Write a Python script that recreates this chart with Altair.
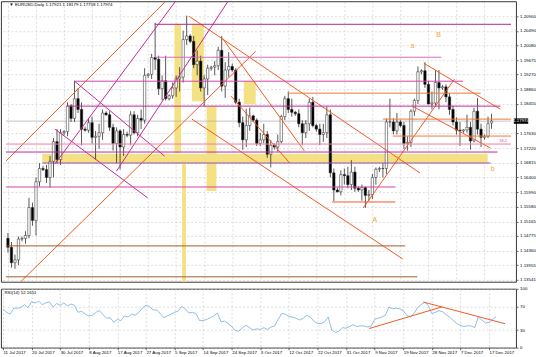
import altair as alt
import pandas as pd

# ---------------- data ----------------
DATE_LABELS = ["11 Jul 2017", "20 Jul 2017", "30 Jul 2017", "8 Aug 2017", "17 Aug 2017",
               "27 Aug 2017", "5 Sep 2017", "14 Sep 2017", "24 Sep 2017", "3 Oct 2017",
               "12 Oct 2017", "22 Oct 2017", "31 Oct 2017", "9 Nov 2017", "19 Nov 2017",
               "28 Nov 2017", "7 Dec 2017", "17 Dec 2017"]

OPEN = [1.1470, 1.1445, 1.1402, 1.1410, 1.1468, 1.1470, 1.1478, 1.1556, 1.1520, 1.1628,
        1.1665, 1.1662, 1.1640, 1.1685, 1.1740, 1.1690, 1.1765, 1.1768, 1.1840, 1.1805,
        1.1860, 1.1830, 1.1775, 1.1772, 1.1793, 1.1752, 1.1755, 1.1765, 1.1820, 1.1815,
        1.1780, 1.1735, 1.1770, 1.1725, 1.1760, 1.1758, 1.1815, 1.1765, 1.1805, 1.1800,
        1.1925, 1.1928, 1.1975, 1.1970, 1.1888, 1.1910, 1.1860, 1.1868, 1.1890, 1.1915,
        1.1920, 1.2025, 1.2035, 1.2020, 1.1955, 1.1965, 1.1890, 1.1915, 1.1945, 1.1948,
        1.1952, 1.1995, 1.1895, 1.1940, 1.1950, 1.1940, 1.1850, 1.1793, 1.1745, 1.1785,
        1.1812, 1.1800, 1.1735, 1.1745, 1.1760, 1.1705, 1.1730, 1.1725, 1.1740, 1.1810,
        1.1860, 1.1830, 1.1822, 1.1818, 1.1790, 1.1765, 1.1790, 1.1850, 1.1785, 1.1775,
        1.1760, 1.1765, 1.1815, 1.1653, 1.1605, 1.1600, 1.1648, 1.1645, 1.1620, 1.1655,
        1.1610, 1.1605, 1.1612, 1.1590, 1.1592, 1.1640, 1.1663, 1.1665, 1.1665, 1.1795,
        1.1795, 1.1770, 1.1795, 1.1785, 1.1735, 1.1738, 1.1825, 1.1855, 1.1935, 1.1938,
        1.1900, 1.1845, 1.1848, 1.1905, 1.1890, 1.1893, 1.1865, 1.1830, 1.1795, 1.1772,
        1.1770, 1.1773, 1.1780, 1.1742, 1.1825, 1.1775, 1.1752, 1.1755, 1.17921]
HIGH = [1.1485, 1.1460, 1.1425, 1.1475, 1.1475, 1.1490, 1.1583, 1.1570, 1.1640, 1.1680,
        1.1672, 1.1675, 1.1700, 1.1750, 1.1775, 1.1775, 1.1772, 1.1850, 1.1845, 1.1910,
        1.1890, 1.1850, 1.1782, 1.1805, 1.1810, 1.1770, 1.1790, 1.1830, 1.1825, 1.1825,
        1.1790, 1.1780, 1.1775, 1.1775, 1.1768, 1.1825, 1.1825, 1.1815, 1.1830, 1.1945,
        1.1932, 1.1985, 1.2072, 1.1980, 1.1925, 1.1980, 1.1872, 1.1905, 1.1925, 1.1948,
        1.2050, 1.2092, 1.2040, 1.2035, 1.1995, 1.1980, 1.1925, 1.1955, 1.1952, 1.1965,
        1.2005, 1.2035, 1.1962, 1.1990, 1.1958, 1.1945, 1.1860, 1.1810, 1.1832, 1.1835,
        1.1815, 1.1805, 1.1765, 1.1790, 1.1770, 1.1745, 1.1735, 1.1760, 1.1815, 1.1868,
        1.1880, 1.1860, 1.1826, 1.1830, 1.1800, 1.1800, 1.1860, 1.1865, 1.1790, 1.1790,
        1.1790, 1.1838, 1.1830, 1.1665, 1.1612, 1.1660, 1.1665, 1.1670, 1.1688, 1.1670,
        1.1615, 1.1620, 1.1615, 1.1605, 1.1650, 1.1668, 1.1670, 1.1680, 1.1805, 1.1860,
        1.1805, 1.1820, 1.1800, 1.1795, 1.1755, 1.1830, 1.1860, 1.1950, 1.1942, 1.1962,
        1.1910, 1.1880, 1.1940, 1.1940, 1.1898, 1.1900, 1.1875, 1.1840, 1.1808, 1.1795,
        1.1775, 1.1815, 1.1795, 1.1835, 1.1862, 1.1790, 1.1760, 1.1810, 1.18179]
LOW = [1.1430, 1.1388, 1.1385, 1.1395, 1.1462, 1.1455, 1.1470, 1.1505, 1.1478, 1.1615,
       1.1658, 1.1625, 1.1612, 1.1640, 1.1680, 1.1675, 1.1758, 1.1755, 1.1795, 1.1795,
       1.1820, 1.1730, 1.1768, 1.1765, 1.1735, 1.1690, 1.1720, 1.1745, 1.1812, 1.1770,
       1.1715, 1.1680, 1.1662, 1.1700, 1.1752, 1.1730, 1.1760, 1.1755, 1.1775, 1.1790,
       1.1918, 1.1915, 1.1940, 1.1870, 1.1855, 1.1855, 1.1855, 1.1860, 1.1865, 1.1880,
       1.1905, 1.2010, 1.2015, 1.1945, 1.1925, 1.1880, 1.1838, 1.1870, 1.1938, 1.1925,
       1.1940, 1.1880, 1.1862, 1.1920, 1.1935, 1.1845, 1.1780, 1.1717, 1.1725, 1.1770,
       1.1795, 1.1728, 1.1728, 1.1735, 1.1695, 1.1668, 1.1718, 1.1712, 1.1735, 1.1800,
       1.1820, 1.1810, 1.1812, 1.1780, 1.1730, 1.1750, 1.1770, 1.1780, 1.1768, 1.1730,
       1.1740, 1.1750, 1.1640, 1.1574, 1.1598, 1.1590, 1.1620, 1.1610, 1.1605, 1.1600,
       1.1600, 1.1575, 1.1555, 1.1575, 1.1580, 1.1620, 1.1655, 1.1640, 1.1650, 1.1780,
       1.1760, 1.1760, 1.1780, 1.1720, 1.1715, 1.1725, 1.1812, 1.1845, 1.1928, 1.1890,
       1.1845, 1.1830, 1.1840, 1.1830, 1.1885, 1.1850, 1.1815, 1.1785, 1.1760, 1.1728,
       1.1765, 1.1765, 1.1718, 1.1738, 1.1760, 1.1725, 1.1745, 1.1750, 1.17758]
CLOSE = [1.1445, 1.1402, 1.1410, 1.1468, 1.1470, 1.1478, 1.1556, 1.1520, 1.1628, 1.1665,
         1.1662, 1.1640, 1.1685, 1.1740, 1.1690, 1.1765, 1.1768, 1.1840, 1.1805, 1.1860,
         1.1830, 1.1775, 1.1772, 1.1793, 1.1752, 1.1755, 1.1765, 1.1820, 1.1815, 1.1780,
         1.1735, 1.1770, 1.1725, 1.1760, 1.1758, 1.1815, 1.1765, 1.1805, 1.1800, 1.1925,
         1.1928, 1.1975, 1.1970, 1.1888, 1.1910, 1.1860, 1.1868, 1.1890, 1.1915, 1.1920,
         1.2025, 1.2035, 1.2020, 1.1955, 1.1965, 1.1890, 1.1915, 1.1945, 1.1948, 1.1952,
         1.1995, 1.1895, 1.1940, 1.1950, 1.1940, 1.1850, 1.1793, 1.1745, 1.1785, 1.1812,
         1.1800, 1.1735, 1.1745, 1.1760, 1.1705, 1.1730, 1.1725, 1.1740, 1.1810, 1.1860,
         1.1830, 1.1822, 1.1818, 1.1790, 1.1765, 1.1790, 1.1850, 1.1785, 1.1775, 1.1760,
         1.1765, 1.1815, 1.1653, 1.1605, 1.1600, 1.1648, 1.1645, 1.1620, 1.1655, 1.1610,
         1.1605, 1.1612, 1.1590, 1.1592, 1.1640, 1.1663, 1.1665, 1.1665, 1.1795, 1.1795,
         1.1770, 1.1795, 1.1785, 1.1735, 1.1738, 1.1825, 1.1855, 1.1935, 1.1938, 1.1900,
         1.1845, 1.1848, 1.1905, 1.1890, 1.1893, 1.1865, 1.1830, 1.1795, 1.1772, 1.1770,
         1.1773, 1.1780, 1.1742, 1.1825, 1.1775, 1.1752, 1.1755, 1.1790, 1.17974]
RSI = [66, 60, 57, 67, 67, 68, 73, 68, 78, 76, 79, 73, 76, 78, 69, 75, 72, 76, 71, 74,
       72, 60, 62, 57, 54, 55, 60, 63, 56, 50, 51, 43, 48, 46, 54, 52, 57, 55, 60, 67,
       72, 70, 64, 64, 58, 51, 54, 57, 60, 62, 70, 66, 59, 60, 58, 46, 46, 48, 51, 54,
       59, 44, 45, 41, 36, 29, 28, 34, 38, 34, 30, 32, 31, 34, 31, 35, 37, 48, 58, 57,
       53, 52, 50, 47, 50, 55, 52, 45, 41, 41, 44, 52, 30, 26, 28, 34, 33, 36, 39, 36,
       37, 37, 35, 36, 48, 50, 52, 55, 69, 66, 67, 66, 63, 55, 52, 58, 68, 73, 77, 72,
       58, 60, 63, 61, 56, 52, 46, 41, 38, 36, 37, 37, 34, 52, 47, 42, 43, 48, 52.17]

PRICE_TICKS = [1.20900, 1.20490, 1.20080, 1.19675, 1.19270, 1.18860, 1.18455, 1.17630,
               1.17220, 1.16815, 1.16400, 1.15990, 1.15580, 1.15165, 1.14775, 1.14360,
               1.13955, 1.13541]
RSI_TICKS = [0, 30, 70, 100]
LAST_PRICE = 1.17974
TITLE_TEXT = "\u25bc EURUSD,Daily  1.17921 1.18179 1.17758 1.17974"
RSI_TEXT = "RSI(14) 52.1651"

# drawn objects in (bar index, price)
ORANGE_LINES = [(-0.56, 1.16859, 45.0, 1.21318), (3.63, 1.13487, 70.7, 1.19924),
                (51.7, 1.20900, 117.6, 1.16524), (52.5, 1.18029, 112.6, 1.14128),
                (61.2, 1.20287, 84.6, 1.17138), (63.7, 1.18670, 80.4, 1.16803),
                (101.4, 1.15549, 127.4, 1.19144), (118.7, 1.19590, 140.5, 1.18308),
                (115.4, 1.18392, 137.7, 1.17221)]
MAGENTA_LINES = [(13.4, 1.16775, 47.8, 1.21318), (31.0, 1.16580, 62.8, 1.21318),
                 (19.0, 1.19088, 44.7, 1.16998), (13.4, 1.17751, 39.9, 1.15828)]
# (price, start, end, colour)
LEVELS = [(1.20677, 41.9, 143.57, "#a8288e"), (1.19757, 41.9, 123.7, "#d86cbc"),
          (1.19088, 19.0, 129.9, "#cf44ac"), (1.18392, 16.8, 140.5, "#c42a98"),
          (1.17333, -0.56, 143.57, "#f27aa6"), (1.17110, -0.56, 139.7, "#c42a98"),
          (1.16803, 9.8, 137.7, "#9c4cb0"), (1.16134, -0.56, 110.6, "#cf44ac"),
          (1.15716, 92.5, 110.6, "#f25a22"), (1.18754, 79.9, 134.9, "#f07a3a"),
          (1.18029, 107.0, 143.57, "#f07a3a"), (1.17556, 109.8, 143.57, "#f07a3a"),
          (1.14490, -0.56, 113.4, "#a65a2a"), (1.13626, -0.56, 116.8, "#a65a2a")]
ZONES = [(9.8, 136.9, 1.17054, 1.16803), (47.5, 49.4, 1.20677, 1.17082),
         (49.7, 50.8, 1.16775, 1.13487), (52.5, 55.9, 1.20677, 1.18531),
         (56.7, 59.5, 1.18392, 1.16023), (67.3, 70.7, 1.19088, 1.18447)]
MARKS = [("a", 115.4, 1.20064), ("B", 122.9, 1.20370), ("A", 104.7, 1.15215), ("b", 138.3, 1.16636)]
FIB_TEXT = [("38.2", 141.3, 1.17416)]
RSI_LINES = [(102.5, 32.5, 122.9, 69.4), (117.6, 77.5, 140.5, 40.7)]

# ---------------- chart ----------------
XMIN, XMAX = -0.56, 143.57
W, H_MAIN, H_RSI = 516, 281, 59
FONT = "Liberation Sans"
FS = 4.4

xs = alt.Scale(domain=[XMIN, XMAX], nice=False, zero=False)
ys = alt.Scale(domain=[1.13487, 1.21318], nice=False, zero=False)
rs = alt.Scale(domain=[0, 100], nice=False, zero=False)
GRID = dict(grid=True, gridColor="#c6c6c6", gridDash=[2, 2], gridWidth=0.6)
XVALS = list(range(0, 137, 8))
date_expr = "[" + ",".join(f"'{d}'" for d in DATE_LABELS) + "][round(datum.value/8)]"

AX_MAIN_X = alt.Axis(values=XVALS, labels=False, ticks=False, domain=False, title=None, **GRID)
AX_MAIN_Y = alt.Axis(orient="right", values=PRICE_TICKS, format=".5f", labelFontSize=FS,
                     labelFont=FONT, labelColor="#000", tickSize=2, tickColor="#000",
                     tickWidth=0.6, labelPadding=1.5, domain=False, title=None, **GRID)
AX_RSI_X = alt.Axis(values=XVALS, labelExpr=date_expr, labelAlign="left", labelFontSize=FS,
                    labelFont=FONT, labelColor="#000", tickSize=2, tickColor="#000",
                    tickWidth=0.6, labelPadding=1, domain=False, title=None, **GRID)
AX_RSI_Y = alt.Axis(orient="right", values=RSI_TICKS, labelFontSize=FS, labelFont=FONT,
                    labelColor="#000", tickSize=2, tickColor="#000", tickWidth=0.6,
                    labelPadding=1.5, domain=False, title=None, **GRID)

X = lambda f: alt.X(f, scale=xs, axis=AX_MAIN_X)
Y = lambda f: alt.Y(f, scale=ys, axis=AX_MAIN_Y)
RX = lambda f: alt.X(f, scale=xs, axis=AX_RSI_X)
RY = lambda f: alt.Y(f, scale=rs, axis=AX_RSI_Y)

n = len(CLOSE)
candles = pd.DataFrame({"i": list(range(n)), "o": OPEN, "h": HIGH, "l": LOW, "c": CLOSE})
candles["up"] = candles["c"] >= candles["o"]
candles["rsi"] = RSI

segs = []
for a, b, c, d in ORANGE_LINES:
    segs.append(dict(x1=a, y1=b, x2=c, y2=d, col="#f25a22", w=1.0))
for a, b, c, d in MAGENTA_LINES:
    segs.append(dict(x1=a, y1=b, x2=c, y2=d, col="#c42a98", w=1.0))
for p, a, c, col in LEVELS:
    segs.append(dict(x1=a, y1=p, x2=c, y2=p, col=col, w=1.0))
seg_df = pd.DataFrame(segs)
zone_df = pd.DataFrame(ZONES, columns=["x1", "x2", "y1", "y2"])
mark_df = pd.DataFrame(MARKS, columns=["t", "x", "y"])
fib_df = pd.DataFrame(FIB_TEXT, columns=["t", "x", "y"])
last_df = pd.DataFrame({"y": [LAST_PRICE], "x1": [XMIN], "x2": [XMAX],
                        "bx1": [XMAX + 0.8], "bx2": [XMAX + 4.9], "tx": [XMAX + 2.85],
                        "by1": [LAST_PRICE - 0.00075], "by2": [LAST_PRICE + 0.00075],
                        "t": [f"{LAST_PRICE:.5f}"]})
title_df = pd.DataFrame({"t": [TITLE_TEXT], "x": [0.4], "y": [1.21207]})

zones = alt.Chart(zone_df).mark_rect(color="#f3e184").encode(
    x=X("x1:Q"), x2="x2:Q", y=Y("y1:Q"), y2="y2:Q")
last_line = alt.Chart(last_df).mark_rule(color="#b4b4b4", strokeWidth=0.8).encode(
    x=X("x1:Q"), x2="x2:Q", y=Y("y:Q"))
wicks = alt.Chart(candles).mark_rule(color="#111", strokeWidth=0.7).encode(
    x=X("i:Q"), y=Y("l:Q"), y2="h:Q")
bodies = alt.Chart(candles).mark_bar(size=2.4, stroke="#222", strokeWidth=0.5).encode(
    x=X("i:Q"), y=Y("o:Q"), y2="c:Q",
    fill=alt.condition("datum.up", alt.value("#ffffff"), alt.value("#000000")))
lines = alt.Chart(seg_df).mark_rule(clip=True).encode(
    x=X("x1:Q"), x2="x2:Q", y=Y("y1:Q"), y2="y2:Q",
    color=alt.Color("col:N", scale=None), strokeWidth=alt.StrokeWidth("w:Q", scale=None))
letters = alt.Chart(mark_df).mark_text(font=FONT, fontSize=7, color="#f5a52a").encode(
    x=X("x:Q"), y=Y("y:Q"), text="t:N")
fib = alt.Chart(fib_df).mark_text(font=FONT, fontSize=4, color="#e0609a").encode(
    x=X("x:Q"), y=Y("y:Q"), text="t:N")
box = alt.Chart(last_df).mark_rect(color="#000").encode(
    x=X("bx1:Q"), x2="bx2:Q", y=Y("by1:Q"), y2="by2:Q")
box_text = alt.Chart(last_df).mark_text(font=FONT, fontSize=FS, color="#fff").encode(
    x=X("tx:Q"), y=Y("y:Q"), text="t:N")
title = alt.Chart(title_df).mark_text(font=FONT, fontSize=FS, align="left", color="#000").encode(
    x=X("x:Q"), y=Y("y:Q"), text="t:N")

main = alt.layer(zones, last_line, wicks, bodies, lines, letters, fib, box, box_text,
                 title).properties(width=W, height=H_MAIN)

# RSI panel
rsi_seg = pd.DataFrame(RSI_LINES, columns=["x1", "y1", "x2", "y2"])
rsi_title = pd.DataFrame({"t": [RSI_TEXT], "x": [0.4], "y": [93]})
rsi_line = alt.Chart(candles).mark_line(color="#74aee2", strokeWidth=0.8).encode(
    x=RX("i:Q"), y=RY("rsi:Q"))
rsi_trend = alt.Chart(rsi_seg).mark_rule(color="#f25a22", strokeWidth=1.0).encode(
    x=RX("x1:Q"), x2="x2:Q", y=RY("y1:Q"), y2="y2:Q")
rsi_label = alt.Chart(rsi_title).mark_text(font=FONT, fontSize=FS, align="left", color="#000").encode(
    x=RX("x:Q"), y=RY("y:Q"), text="t:N")
rsi = alt.layer(rsi_line, rsi_trend, rsi_label).properties(width=W, height=H_RSI)

chart = alt.vconcat(main, rsi, spacing=2).properties(padding=0, background="#ffffff").configure_view(
    stroke="#222", strokeWidth=0.9)

chart.save("out.html", embed_options={"renderer": "svg", "actions": False})
